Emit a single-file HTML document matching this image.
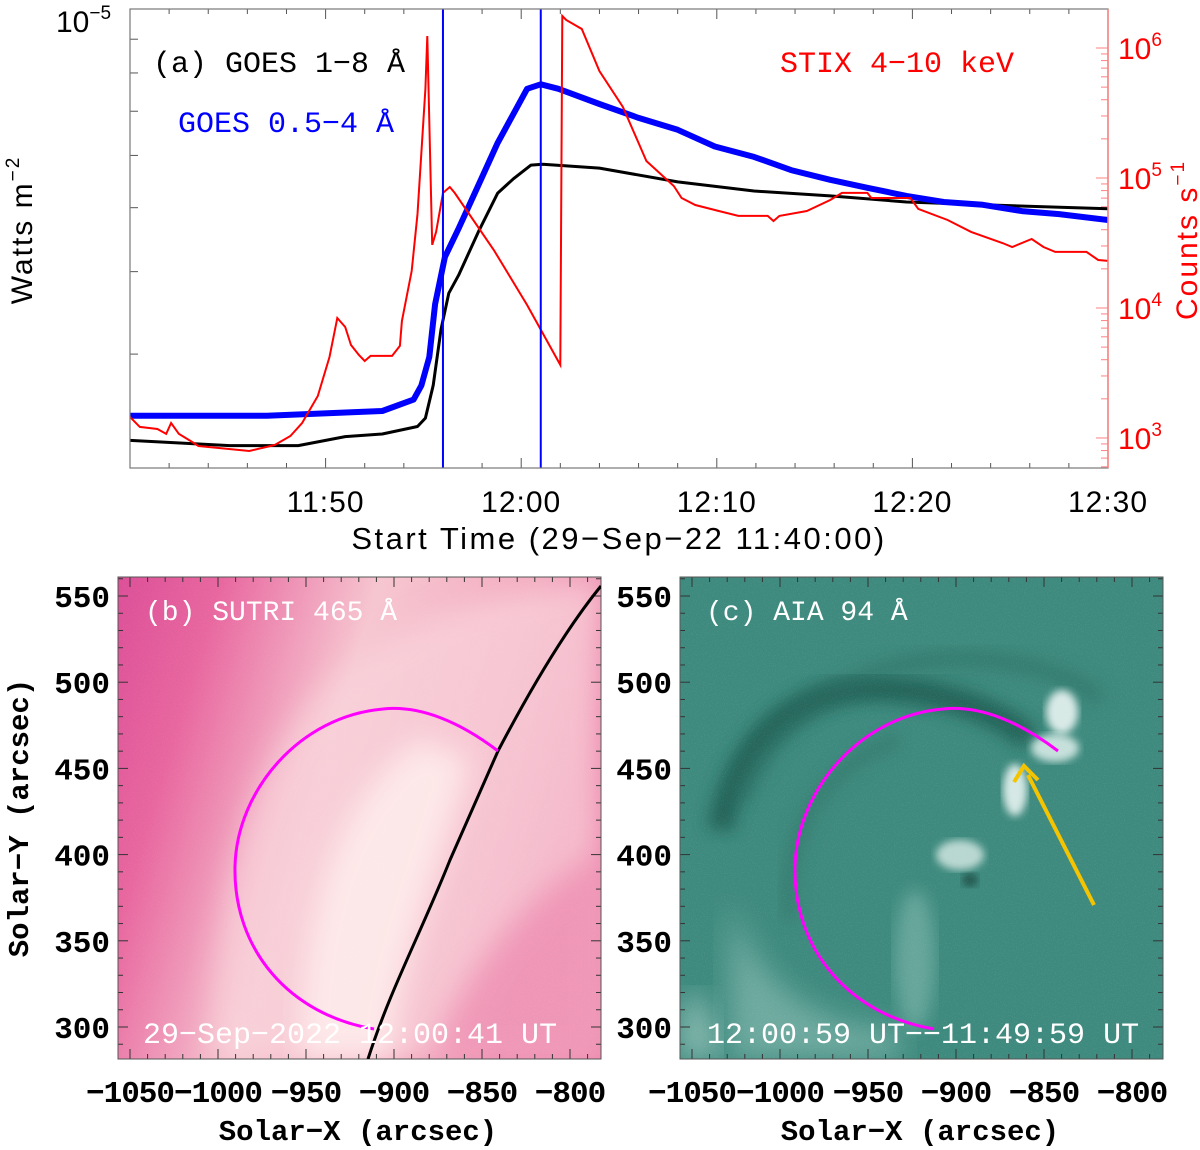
<!DOCTYPE html>
<html><head><meta charset="utf-8">
<style>
html,body{margin:0;padding:0;background:#fff;}
svg{display:block;}
.sans{font-family:"Liberation Sans",sans-serif;}
.mono{font-family:"Liberation Mono",monospace;}
.serif{font-family:"Liberation Serif",serif;}
</style></head>
<body>
<svg id="fig" width="1200" height="1150" viewBox="0 0 1200 1150" xmlns="http://www.w3.org/2000/svg">
<defs>
<filter id="blur8"><feGaussianBlur stdDeviation="8"/></filter>
<filter id="blur14"><feGaussianBlur stdDeviation="14"/></filter>
<filter id="blur4"><feGaussianBlur stdDeviation="4"/></filter>
<filter id="grain" x="0" y="0" width="100%" height="100%">
<feTurbulence type="fractalNoise" baseFrequency="0.9" numOctaves="1" seed="3" result="n"/>
<feColorMatrix type="matrix" values="0 0 0 0 1  0 0 0 0 1  0 0 0 0 1  0 0 0 1.6 -0.8"/>
</filter>
<linearGradient id="pinkbg" x1="0" y1="0" x2="1" y2="0.3">
<stop offset="0" stop-color="#dc4f98"/><stop offset="0.2" stop-color="#e8679f"/><stop offset="0.5" stop-color="#f6c6d0"/><stop offset="0.8" stop-color="#f3a9bf"/><stop offset="1" stop-color="#ec80a8"/>
</linearGradient>
<clipPath id="clipb"><rect x="118" y="577" width="483" height="482"/></clipPath>
<clipPath id="clipc"><rect x="680" y="577" width="483" height="482"/></clipPath>
<clipPath id="clipa"><rect x="130" y="9" width="978" height="459"/></clipPath>
</defs>

<!-- Panel a -->
<g id="panel-a">
<g id="ticks-a"></g>
<g clip-path="url(#clipa)" id="series-a"></g>
<rect x="130" y="9" width="978" height="459" fill="none" stroke="#777" stroke-width="1.2"/>
<line x1="1108" y1="9" x2="1108" y2="468" stroke="#ff8080" stroke-width="1.5"/>
<text x="56" y="32" font-size="30" class="sans">10<tspan dy="-13" font-size="19">−5</tspan></text>
<text transform="translate(32,230) rotate(-90)" text-anchor="middle" font-size="30" letter-spacing="2" class="sans">Watts m<tspan dy="-13" font-size="19">−2</tspan></text>
<text x="619" y="549" text-anchor="middle" font-size="31" letter-spacing="2.5" class="sans">Start Time (29−Sep−22 11:40:00)</text>
<text transform="translate(1197,240) rotate(-90)" text-anchor="middle" font-size="30" letter-spacing="2" class="sans" fill="#f00">Counts s<tspan dy="-13" font-size="19">−1</tspan></text>
<text x="153" y="72" font-size="30" class="mono">(a) GOES 1−8 Å</text>
<text x="178" y="132" font-size="30" class="mono" fill="#0000ff">GOES 0.5−4 Å</text>
<text x="780" y="72" font-size="30" class="mono" fill="#f00">STIX 4−10 keV</text>
</g>

<!-- Panel b -->
<g id="panel-b">
<g clip-path="url(#clipb)">
<rect x="118" y="577" width="483" height="482" fill="url(#pinkbg)"/>
<path d="M210,1059 C215,900 250,760 330,680 C400,620 470,600 560,585 L601,577 L601,1059 Z" fill="#f9d4dc" opacity="0.7" filter="url(#blur14)"/>
<path d="M300,1059 C300,930 330,800 420,740 L470,760 C440,860 400,960 390,1059 Z" fill="#fff0ee" opacity="0.8" filter="url(#blur14)"/>
<path d="M430,1059 C460,980 520,900 601,850 L601,1059 Z" fill="#ec7fa8" opacity="0.6" filter="url(#blur14)"/>
<rect x="118" y="577" width="483" height="482" filter="url(#grain)" opacity="0.12"/>
</g>
<g id="ticks-b"></g>
<rect x="118" y="577" width="483" height="482" fill="none" stroke="#555" stroke-width="1"/>
<g clip-path="url(#clipb)">
<path id="limb-b" d="M368,1059 C390,990 420,935 450,860 C470,815 485,780 498,751 C530,690 565,630 601,586" fill="none" stroke="#000" stroke-width="3"/>
<path d="M498,751 C460,722 420,705 383,709 C300,716 237,790 235,866 C233,950 290,1015 374,1029" fill="none" stroke="#ff00ff" stroke-width="3"/>
</g>
<text x="145" y="620" font-size="28" class="mono" fill="#fff">(b) SUTRI 465 Å</text>
<text x="143" y="1043" font-size="30" class="mono" fill="#fff">29−Sep−2022 12:00:41 UT</text>
<text transform="translate(28,818) rotate(-90)" text-anchor="middle" font-size="29" class="mono" font-weight="bold">Solar−Y (arcsec)</text>
<text x="358" y="1140" text-anchor="middle" font-size="29" class="mono" font-weight="bold">Solar−X (arcsec)</text>
</g>

<!-- Panel c -->
<g id="panel-c">
<g clip-path="url(#clipc)">
<rect x="680" y="577" width="483" height="482" fill="#3e8a7e"/>
<path d="M680,1059 C680,980 700,960 720,1059 Z" fill="#a9cfc6" opacity="0.7" filter="url(#blur14)"/>
<path d="M730,1059 L730,900 C760,1000 840,1030 900,1030 L900,1059 Z" fill="#8fc0b6" opacity="0.6" filter="url(#blur14)"/>
<path d="M720,830 C740,720 820,680 900,690 C960,695 1010,720 1030,740" fill="none" stroke="#1c5a4f" stroke-width="26" opacity="0.8" filter="url(#blur8)"/>
<path d="M740,800 C780,700 880,650 990,660 C1040,665 1080,680 1100,700" fill="none" stroke="#2b6d62" stroke-width="18" opacity="0.5" filter="url(#blur8)"/>
<path d="M790,920 C780,830 830,760 900,740" fill="none" stroke="#2d6e63" stroke-width="14" opacity="0.5" filter="url(#blur8)"/>
<ellipse cx="1062" cy="712" rx="16" ry="22" fill="#f4fbf9" opacity="0.85" filter="url(#blur4)"/>
<ellipse cx="1055" cy="748" rx="24" ry="14" fill="#e8f5f2" opacity="0.8" filter="url(#blur4)"/>
<ellipse cx="1015" cy="790" rx="12" ry="26" fill="#f0f9f7" opacity="0.85" filter="url(#blur4)"/>
<ellipse cx="960" cy="855" rx="24" ry="15" fill="#d8ebe6" opacity="0.8" filter="url(#blur4)"/>
<ellipse cx="970" cy="880" rx="8" ry="7" fill="#17433b" opacity="0.7" filter="url(#blur4)"/>
<ellipse cx="915" cy="960" rx="20" ry="70" fill="#8fc2b8" opacity="0.5" filter="url(#blur8)"/>
<rect x="680" y="577" width="483" height="482" filter="url(#grain)" opacity="0.15"/>
</g>
<g id="ticks-c"></g>
<rect x="680" y="577" width="483" height="482" fill="none" stroke="#555" stroke-width="1"/>
<g clip-path="url(#clipc)" transform="translate(562,0)">
<path d="M368,1059 C390,990 420,935 450,860 C470,815 485,780 498,751 C530,690 565,630 601,586" fill="none" stroke="#000" stroke-width="3"/>
</g>
<g clip-path="url(#clipc)">
<path transform="translate(560,0)" d="M498,751 C460,722 420,705 383,709 C300,716 237,790 235,866 C233,950 290,1015 374,1029" fill="none" stroke="#ff00ff" stroke-width="3"/>
</g>
<line x1="1094" y1="905" x2="1028" y2="775" stroke="#f5c400" stroke-width="4"/>
<path d="M1014,782 L1024,766 L1038,780" fill="none" stroke="#f5c400" stroke-width="4"/>
<text x="706" y="620" font-size="28" class="mono" fill="#fff">(c) AIA 94 Å</text>
<text x="707" y="1043" font-size="30" class="mono" fill="#fff">12:00:59 UT−−11:49:59 UT</text>
<text x="920" y="1140" text-anchor="middle" font-size="29" class="mono" font-weight="bold">Solar−X (arcsec)</text>
</g>
</svg>
<script>
// ---- Panel (a) data ----
const goesLongMin = [0,5.1,8.6,11,12.9,14.7,15.1,15.5,15.9,16.3,16.8,17.8,18.8,19.6,20.5,21.1,24,28,31.9,35.8,39.7,43.6,50];
const goesLongVal = [2.22e-6,2.18e-6,2.18e-6,2.25e-6,2.27e-6,2.33e-6,2.40e-6,2.69e-6,3.27e-6,3.71e-6,3.95e-6,4.59e-6,5.26e-6,5.53e-6,5.80e-6,5.82e-6,5.74e-6,5.47e-6,5.30e-6,5.21e-6,5.10e-6,5.05e-6,4.98e-6];
const goesShortMin = [0,7,12.9,14.5,14.9,15.3,15.6,16.1,16.8,17.8,18.8,19.8,20.3,21.0,21.9,24,26,28,29.9,31.9,33.8,35.8,37.7,39.7,41.6,43.6,45.6,47.5,50];
const goesShortVal = [2.42e-6,2.42e-6,2.46e-6,2.56e-6,2.69e-6,2.97e-6,3.57e-6,4.21e-6,4.65e-6,5.40e-6,6.27e-6,7.11e-6,7.57e-6,7.69e-6,7.57e-6,7.18e-6,6.84e-6,6.56e-6,6.19e-6,5.97e-6,5.70e-6,5.51e-6,5.36e-6,5.21e-6,5.10e-6,5.05e-6,4.94e-6,4.89e-6,4.79e-6];
const stixMin = [0,0.5,1.4,1.85,2.1,2.5,3.1,3.5,6.1,7.4,8.2,8.8,9.6,10.2,10.6,11.0,11.3,11.7,12.0,12.3,13.4,13.8,13.9,14.4,14.7,15.1,15.2,15.45,15.65,16.0,16.35,16.6,18.6,20.3,22.0,22.1,22.3,23.1,24.0,25.2,26.4,27.8,28.2,28.9,30.1,31.1,32.6,32.9,33.2,34.6,35.8,36.4,37.7,37.9,39.9,40.3,41.8,43.0,44.6,45.1,46.1,46.7,47.3,48.9,49.5,50];
const stixVal = [1452,1216,1172,1074,1303,1074,948,867,794,883,1035,1303,2104,4198,8375,7145,5190,4345,3908,4276,4276,5105,7943,19280,52840,484200,1236000,30550,38460,76740,85310,76740,27930,10540,3646,1762000,1641000,1400000,665300,351600,135200,86700,70150,61940,55720,51050,51050,46670,51050,55720,67740,76740,76740,70150,70150,57810,47530,38460,31620,29440,33960,29440,26980,26980,23390,23010];
const markerMin = [16.0, 21.0];
const xTickLabels = ["11:50","12:00","12:10","12:20","12:30"];
const xTickMin = [10,20,30,40,50];
const leftTickVals = [3e-6,4e-6,5e-6,6e-6,7e-6,8e-6,9e-6];
const rightTickExp = [3,4,5,6];

// ---- Panels (b),(c) axis data ----
const solarXTicks = [-1050,-1000,-950,-900,-850,-800];
const solarYTicks = [300,350,400,450,500,550];

const NS='http://www.w3.org/2000/svg';
function mk(tag, attrs, parent){const e=document.createElementNS(NS,tag);for(const k in attrs)e.setAttribute(k,attrs[k]);parent.appendChild(e);return e;}

const AX={x0:130,x1:1108,y0:9,y1:468};
function xA(m){return AX.x0+(m/50)*(AX.x1-AX.x0);}
const LMAX=-5, LMIN=-5-459/660;
function yL(v){return AX.y0+(LMAX-Math.log10(v))/(LMAX-LMIN)*(AX.y1-AX.y0);}
const RMIN=2.769, RMAX=6.3;
function yR(v){return AX.y0+(RMAX-Math.log10(v))/(RMAX-RMIN)*(AX.y1-AX.y0);}

const sa=document.getElementById('series-a');
const ta=document.getElementById('ticks-a');
function pts(ms,vs,fy){return ms.map((m,i)=>xA(m).toFixed(1)+','+fy(vs[i]).toFixed(1)).join(' ');}

const pk=mk('polyline',{points:pts(goesLongMin,goesLongVal,yL),fill:'none',stroke:'#000','stroke-width':3,'stroke-linejoin':'round'},sa);


const pb=mk('polyline',{points:pts(goesShortMin,goesShortVal,yL),fill:'none',stroke:'#0000ff','stroke-width':6,'stroke-linejoin':'round'},sa);


const pr=mk('polyline',{points:pts(stixMin,stixVal,yR),fill:'none',stroke:'#ff0000','stroke-width':2},sa);


markerMin.forEach(m=>{
 const l=mk('line',{x1:xA(m),x2:xA(m),y1:AX.y0,y2:AX.y1,stroke:'#0000ff','stroke-width':2},sa);
 
 
});
for(let m=0;m<=50;m+=2){
 const major=(m%10===0);const len=major?10:5;
 mk('line',{x1:xA(m),x2:xA(m),y1:AX.y1,y2:AX.y1-len,stroke:'#555','stroke-width':1},ta);
 mk('line',{x1:xA(m),x2:xA(m),y1:AX.y0,y2:AX.y0+len,stroke:'#555','stroke-width':1},ta);
}
xTickMin.forEach((m,i)=>{
 const t=mk('text',{x:xA(m),y:512,'text-anchor':'middle','font-size':30,class:'sans','letter-spacing':1},ta);
 t.textContent=xTickLabels[i];
 
 
});
leftTickVals.forEach(v=>{
 const y=yL(v);
 mk('line',{x1:AX.x0,x2:AX.x0+8,y1:y,y2:y,stroke:'#555','stroke-width':1},ta);
});
for(let e=2;e<=6;e++){for(let k=1;k<=9;k++){const v=k*Math.pow(10,e);const lv=Math.log10(v);if(lv<RMIN||lv>RMAX)continue;const y=yR(v);
 mk('line',{x1:AX.x1,x2:AX.x1-(k===1?12:7),y1:y,y2:y,stroke:'#ff8080','stroke-width':1},ta);}}
rightTickExp.forEach(e=>{
 const t=mk('text',{x:1118,y:yR(Math.pow(10,e))+11,'font-size':30,class:'sans',fill:'#f00'},ta);
 t.textContent='10';
 const s=mk('tspan',{dy:-13,'font-size':19},t);s.textContent=String(e);
 
 
});

function xS(X,off){return 130+(X+1050)*1.76+off;}
function yS(Y){return 596+(550-Y)*1.724;}
[['ticks-b',0],['ticks-c',562]].forEach(([id,off])=>{
 const g=document.getElementById(id);
 const L=118+off,R=601+off,T=577,B=1059;
 for(let X=-1060;X<=-790;X+=10){const x=xS(X,off);if(x<L||x>R)continue;const len=(X%50===0)?10:5;
  mk('line',{x1:x,x2:x,y1:B,y2:B-len,stroke:'#333','stroke-width':1},g);mk('line',{x1:x,x2:x,y1:T,y2:T+len,stroke:'#333','stroke-width':1},g);}
 for(let Y=280;Y<=560;Y+=10){const y=yS(Y);if(y<T||y>B)continue;const len=(Y%50===0)?10:5;
  mk('line',{x1:L,x2:L+len,y1:y,y2:y,stroke:'#333','stroke-width':1},g);mk('line',{x1:R,x2:R-len,y1:y,y2:y,stroke:'#333','stroke-width':1},g);}
 solarXTicks.forEach(X=>{const t=mk('text',{x:xS(X,off),y:1102,'text-anchor':'middle','font-size':31,class:'mono','font-weight':'bold','letter-spacing':-1},g);t.textContent=String(X).replace('-','−');
  
  });
 solarYTicks.forEach(Y=>{const t=mk('text',{x:L-8,y:yS(Y)+11,'text-anchor':'end','font-size':31,class:'mono','font-weight':'bold'},g);t.textContent=String(Y);
  
  });
});
</script>
</body></html>
